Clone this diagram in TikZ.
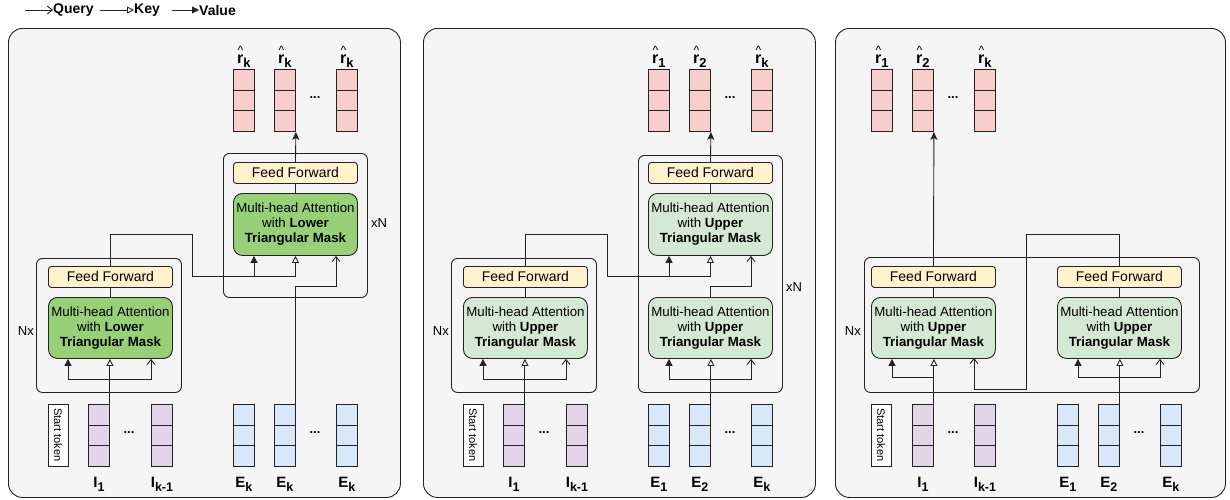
\documentclass[tikz,border=0pt]{standalone}
\usepackage{fontspec}
\setmainfont{Liberation Sans}
\usetikzlibrary{arrows.meta,calc}
\definecolor{panelbg}{HTML}{F5F5F5}
\definecolor{ffcol}{HTML}{FFF2CC}
\definecolor{gdark}{HTML}{97D077}
\definecolor{glight}{HTML}{D5E8D4}
\definecolor{redc}{HTML}{F8CECC}
\definecolor{purc}{HTML}{E1D5E7}
\definecolor{bluc}{HTML}{DAE8FC}
\definecolor{ln}{HTML}{222222}
\newcommand\vlab[2]{{\fontsize{15}{15}\selectfont\bfseries #1\raisebox{-4pt}{\fontsize{12.5}{12.5}\selectfont #2}}}
\newcommand\rlab[1]{{\fontsize{16}{16}\selectfont\bfseries\ooalign{r\cr\hidewidth\raise8.6pt\hbox{\fontsize{12}{12}\mdseries\textasciicircum}\hidewidth\cr}\raisebox{-4pt}{\fontsize{13}{13}\selectfont #1}}}
\newcommand\attL{Multi-head Attention\\with \textbf{Lower}\\\textbf{Triangular Mask}}
\newcommand\attU{Multi-head Attention\\with \textbf{Upper}\\\textbf{Triangular Mask}}
\tikzset{
  panel/.style={draw=ln, line width=0.9pt, fill=panelbg, rounded corners=14pt, anchor=north west, inner sep=0pt},
  blk/.style={draw=ln, line width=0.9pt, rounded corners=6pt, anchor=north west, inner sep=0pt},
  ffbox/.style={draw=ln, line width=0.9pt, fill=ffcol, rounded corners=3pt, anchor=north west, inner sep=0pt,
    minimum width=124pt, minimum height=21pt, font=\fontsize{14}{16}\selectfont},
  attbox/.style={draw=ln, line width=0.9pt, rounded corners=9pt, anchor=north west, inner sep=0pt,
    minimum width=124pt, minimum height=61pt, align=center, font=\fontsize{13.3}{15}\selectfont},
  vec/.style={draw=ln, line width=0.9pt, minimum width=21pt, minimum height=62pt, inner sep=0pt, anchor=north west,
    path picture={\draw[ln, line width=0.9pt]
      ($(path picture bounding box.north west)!1/3!(path picture bounding box.south west)$) --
      ($(path picture bounding box.north east)!1/3!(path picture bounding box.south east)$)
      ($(path picture bounding box.north west)!2/3!(path picture bounding box.south west)$) --
      ($(path picture bounding box.north east)!2/3!(path picture bounding box.south east)$);}},
  starttok/.style={draw=ln, line width=0.9pt, fill=white, rotate=-90, minimum width=62pt, minimum height=20pt,
    inner sep=0pt, font=\fontsize{11}{11}\selectfont},
  dots/.style={font=\fontsize{13}{13}\selectfont\bfseries, inner sep=0pt},
  lbl/.style={inner sep=0pt, anchor=base},
  side/.style={font=\fontsize{13}{13}\selectfont, inner sep=0pt},
  conn/.style={draw=ln, line width=0.9pt},
  qry/.style={conn, -{Straight Barb[length=5pt,width=8pt]}},
  key/.style={conn, -{Triangle[open,fill=white,length=7pt,width=7pt]}},
  val/.style={conn, -{Triangle[length=7pt,width=7pt]}},
  outarr/.style={conn, -{Stealth[length=8pt,width=7pt,inset=2pt]}},
  legtext/.style={font=\fontsize{14}{14}\selectfont\bfseries, inner sep=0pt, anchor=west},
}
\begin{document}
\begin{tikzpicture}[x=1pt, y=-1pt]
\fill[white] (0,0) rectangle (1230,499);
\useasboundingbox (0,0) rectangle (1230,499);

% ---------- legend ----------
\node[legtext] (lgq) at (53,10) {Query};
\coordinate (lgq0) at (25,10);
\draw[qry] (lgq0) -- (lgq.west);
\node[legtext] (lgk) at (134,10) {Key};
\coordinate (lgk0) at (100,10);
\draw[key] (lgk0) -- (lgk.west);
\node[legtext] (lgv) at (199,10) {Value};
\coordinate (lgv0) at (172,10);
\draw[val] (lgv0) -- (lgv.west);

% ================= PANEL 1 =================
\node[panel, minimum width=392pt, minimum height=469pt] (p1) at (8,28) {};
\node[blk, minimum width=145pt, minimum height=134pt] (p1bA) at (36,258) {};
\node[ffbox] (p1ffA) at (48,266) {Feed Forward};
\node[attbox, fill=gdark] (p1attA) at (48,297) {\attL};
\node[side, anchor=east] (p1nx) at (34,331) {Nx};
\node[blk, minimum width=144pt, minimum height=144pt] (p1bB) at (223,153) {};
\node[ffbox] (p1ffB) at (233,162) {Feed Forward};
\node[attbox, fill=gdark, minimum height=62pt] (p1attB) at (233,193) {\attL};
\node[side, anchor=west] (p1xn) at (371,223) {xN};

\node[vec, fill=redc] (p1o1) at (233,69) {};
\node[vec, fill=redc] (p1o2) at (274,69) {};
\node[vec, fill=redc] (p1o3) at (336,69) {};
\node[dots] (p1od) at (315,98) {...};
\node[lbl] (p1ol1) at ($(p1o1.north)+(0,-6)$) {\rlab{k}};
\node[lbl] (p1ol2) at ($(p1o2.north)+(0,-6)$) {\rlab{k}};
\node[lbl] (p1ol3) at ($(p1o3.north)+(0,-6)$) {\rlab{k}};

\node[starttok] (p1st) at (58,435) {Start token};
\node[vec, fill=purc] (p1i1) at (88,404) {};
\node[vec, fill=purc] (p1i2) at (151,404) {};
\node[dots] (p1id) at (129,433) {...};
\node[vec, fill=bluc] (p1e1) at (233,404) {};
\node[vec, fill=bluc] (p1e2) at (274,404) {};
\node[vec, fill=bluc] (p1e3) at (336,404) {};
\node[dots] (p1ed) at (315,433) {...};
\node[lbl] (p1il1) at ($(p1i1.south)+(0,21)$) {\vlab{I}{1}};
\node[lbl] (p1il2) at ($(p1i2.south)+(0,21)$) {\vlab{I}{k-1}};
\node[lbl] (p1el1) at ($(p1e1.south)+(0,21)$) {\vlab{E}{k}};
\node[lbl] (p1el2) at ($(p1e2.south)+(0,21)$) {\vlab{E}{k}};
\node[lbl] (p1el3) at ($(p1e3.south)+(0,21)$) {\vlab{E}{k}};

\coordinate (p1ja) at (68,379);
\coordinate (p1jq) at (151,379);
\draw[key] (p1i1.north east) -- (p1i1.north east |- p1attA.south);
\draw[val] (p1i1.north east |- p1ja) -| (p1ja |- p1attA.south);
\draw[qry] (p1i1.north east |- p1ja) -| (p1jq |- p1attA.south);
\draw[conn] (p1attA.north) -- (p1ffA.south);
\coordinate (p1k1) at (192,234);
\coordinate (p1k2) at (192,276);
\coordinate (p1bv) at ([xshift=21pt]p1attB.south west);
\coordinate (p1m) at (336,286);
\draw[key] (p1ffA.north) |- (p1k1) -- (p1k2) -| (p1attB.south);
\draw[val] (p1k2 -| p1bv) -- (p1bv);
\draw[qry] (p1e2.north east) |- (p1m) -- (p1m |- p1attB.south);
\draw[conn] (p1attB.north) -- (p1ffB.south);
\draw[outarr] (p1ffB.north) -- (p1o2.south east);

% ================= PANEL 2 =================
\begin{scope}[xshift=415pt]
\node[panel, minimum width=392pt, minimum height=469pt] (p2) at (8,28) {};
\node[blk, minimum width=145pt, minimum height=134pt] (p2bA) at (36,258) {};
\node[ffbox] (p2ffA) at (48,266) {Feed Forward};
\node[attbox, fill=glight] (p2attA) at (48,297) {\attU};
\node[side, anchor=east] (p2nx) at (34,331) {Nx};
\node[blk, minimum width=144pt, minimum height=237pt] (p2bB) at (223,155) {};
\node[ffbox] (p2ffB) at (233,162) {Feed Forward};
\node[attbox, fill=glight, minimum height=62pt] (p2attB) at (233,193) {\attU};
\node[attbox, fill=glight] (p2attC) at (233,297) {\attU};
\node[side, anchor=west] (p2xn) at (371,287) {xN};

\node[vec, fill=redc] (p2o1) at (233,69) {};
\node[vec, fill=redc] (p2o2) at (274,69) {};
\node[vec, fill=redc] (p2o3) at (336,69) {};
\node[dots] (p2od) at (315,98) {...};
\node[lbl] (p2ol1) at ($(p2o1.north)+(0,-6)$) {\rlab{1}};
\node[lbl] (p2ol2) at ($(p2o2.north)+(0,-6)$) {\rlab{2}};
\node[lbl] (p2ol3) at ($(p2o3.north)+(0,-6)$) {\rlab{k}};

\node[starttok] (p2st) at (58,435) {Start token};
\node[vec, fill=purc] (p2i1) at (88,404) {};
\node[vec, fill=purc] (p2i2) at (151,404) {};
\node[dots] (p2id) at (129,433) {...};
\node[vec, fill=bluc] (p2e1) at (233,404) {};
\node[vec, fill=bluc] (p2e2) at (274,404) {};
\node[vec, fill=bluc] (p2e3) at (336,404) {};
\node[dots] (p2ed) at (315,433) {...};
\node[lbl] (p2il1) at ($(p2i1.south)+(0,21)$) {\vlab{I}{1}};
\node[lbl] (p2il2) at ($(p2i2.south)+(0,21)$) {\vlab{I}{k-1}};
\node[lbl] (p2el1) at ($(p2e1.south)+(0,21)$) {\vlab{E}{1}};
\node[lbl] (p2el2) at ($(p2e2.south)+(0,21)$) {\vlab{E}{2}};
\node[lbl] (p2el3) at ($(p2e3.south)+(0,21)$) {\vlab{E}{k}};

\coordinate (p2ja) at (68,379);
\coordinate (p2jq) at (151,379);
\draw[key] (p2i1.north east) -- (p2i1.north east |- p2attA.south);
\draw[val] (p2i1.north east |- p2ja) -| (p2ja |- p2attA.south);
\draw[qry] (p2i1.north east |- p2ja) -| (p2jq |- p2attA.south);
\draw[conn] (p2attA.north) -- (p2ffA.south);
\coordinate (p2k1) at (192,234);
\coordinate (p2k2) at (192,276);
\coordinate (p2bv) at ([xshift=21pt]p2attB.south west);
\coordinate (p2m) at (336,286);
\draw[key] (p2ffA.north) |- (p2k1) -- (p2k2) -| (p2attB.south);
\draw[val] (p2k2 -| p2bv) -- (p2bv);
\draw[qry] (p2attC.north) |- (p2m) -- (p2m |- p2attB.south);
\coordinate (p2ca) at (254,379);
\coordinate (p2cq) at (336,379);
\draw[key] (p2e2.north east) -- (p2e2.north east |- p2attC.south);
\draw[val] (p2e2.north east |- p2ca) -| (p2ca |- p2attC.south);
\draw[qry] (p2e2.north east |- p2ca) -| (p2cq |- p2attC.south);
\draw[conn] (p2attB.north) -- (p2ffB.south);
\draw[outarr] (p2ffB.north) -- (p2o2.south east);
\end{scope}

% ================= PANEL 3 =================
\node[panel, minimum width=390pt, minimum height=469pt] (p3) at (835,28) {};
\node[blk, minimum width=335pt, minimum height=135pt] (p3b) at (864,257) {};
\node[ffbox] (p3ffL) at (871,266) {Feed Forward};
\node[ffbox] (p3ffR) at (1057,266) {Feed Forward};
\node[attbox, fill=glight] (p3attL) at (871,297) {\attU};
\node[attbox, fill=glight] (p3attR) at (1057,297) {\attU};
\node[side, anchor=east] (p3nx) at (861,331) {Nx};

\node[vec, fill=redc] (p3o1) at (871,69) {};
\node[vec, fill=redc] (p3o2) at (912,69) {};
\node[vec, fill=redc] (p3o3) at (974,69) {};
\node[dots] (p3od) at (953,98) {...};
\node[lbl] (p3ol1) at ($(p3o1.north)+(0,-6)$) {\rlab{1}};
\node[lbl] (p3ol2) at ($(p3o2.north)+(0,-6)$) {\rlab{2}};
\node[lbl] (p3ol3) at ($(p3o3.north)+(0,-6)$) {\rlab{k}};

\node[starttok] (p3st) at (881,435) {Start token};
\node[vec, fill=purc] (p3i1) at (912,404) {};
\node[vec, fill=purc] (p3i2) at (974,404) {};
\node[dots] (p3id) at (953,433) {...};
\node[vec, fill=bluc] (p3e1) at (1057,404) {};
\node[vec, fill=bluc] (p3e2) at (1098,404) {};
\node[vec, fill=bluc] (p3e3) at (1160,404) {};
\node[dots] (p3ed) at (1139,433) {...};
\node[lbl] (p3il1) at ($(p3i1.south)+(0,21)$) {\vlab{I}{1}};
\node[lbl] (p3il2) at ($(p3i2.south)+(0,21)$) {\vlab{I}{k-1}};
\node[lbl] (p3el1) at ($(p3e1.south)+(0,21)$) {\vlab{E}{1}};
\node[lbl] (p3el2) at ($(p3e2.south)+(0,21)$) {\vlab{E}{2}};
\node[lbl] (p3el3) at ($(p3e3.south)+(0,21)$) {\vlab{E}{k}};

\coordinate (p3ja) at (892,377);
\draw[key] (p3i1.north east) -- (p3i1.north east |- p3attL.south);
\draw[val] (p3i1.north east |- p3ja) -| (p3ja |- p3attL.south);
\coordinate (p3r1) at (1026,234);
\coordinate (p3r2) at (1026,389);
\coordinate (p3lq) at (974,358);
\draw[qry] (p3ffR.north) |- (p3r1) -- (p3r2) -| (p3lq);
\coordinate (p3ra) at (1078,377);
\coordinate (p3rq) at (1160,377);
\draw[key] (p3e2.north east) -- (p3e2.north east |- p3attR.south);
\draw[val] (p3e2.north east |- p3ra) -| (p3ra |- p3attR.south);
\draw[qry] (p3e2.north east |- p3ra) -| (p3rq |- p3attR.south);
\draw[conn] (p3attL.north) -- (p3ffL.south);
\draw[conn] (p3attR.north) -- (p3ffR.south);
\draw[outarr] (p3ffL.north) -- (p3o2.south east);
\end{tikzpicture}
\end{document}
